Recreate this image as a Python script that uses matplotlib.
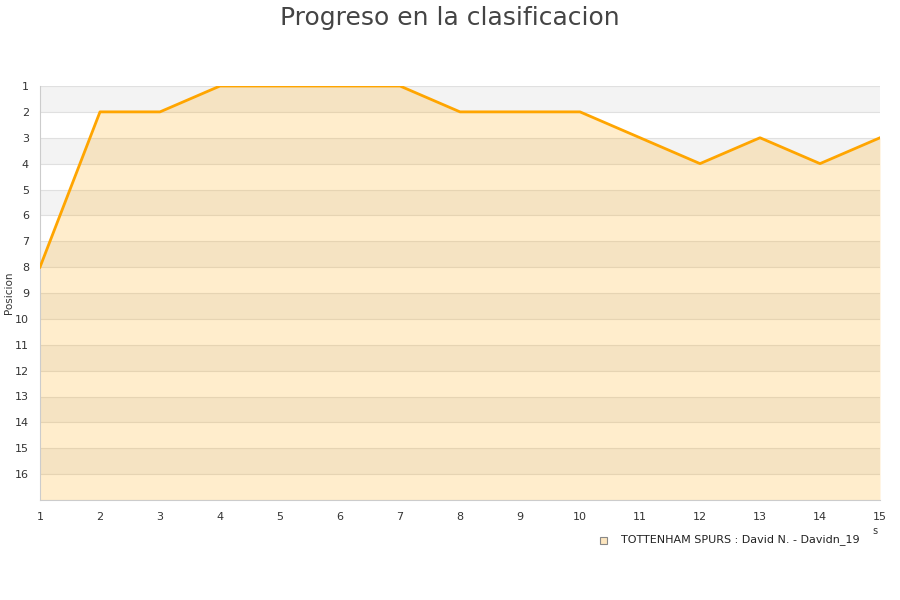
import matplotlib
matplotlib.use("Agg")
import matplotlib.pyplot as plt
from matplotlib.patches import Rectangle

# Datos: jornadas y posiciones
jornadas = list(range(1, 16))
posiciones = [8, 2, 2, 1, 1, 1, 1, 2, 2, 2, 3, 4, 3, 4, 3]
etiquetas_pos = list(range(1, 17))
equipo = "TOTTENHAM SPURS : David N. - Davidn_19"

fig = plt.figure(figsize=(9, 6), dpi=100)
ax = fig.add_axes([40 / 900, 1 - 500 / 600, 840 / 900, 414 / 600])

# bandas alternas
for p in range(1, 17):
    if p % 2 == 1:
        ax.axhspan(p, p + 1, color="#f3f3f3", lw=0, zorder=0)
for p in range(1, 18):
    ax.axhline(p, color="#e0e0e0", lw=0.8, zorder=1)

ax.fill_between(jornadas, posiciones, 17, color="#ffa500", alpha=0.2, lw=0, zorder=2)
ax.plot(jornadas, posiciones, color="#ffa500", lw=2, zorder=3)

ax.set_xlim(1, 15)
ax.set_ylim(17, 1)
ax.set_xticks(jornadas)
ax.set_yticks(etiquetas_pos)
ax.tick_params(length=0, labelsize=8, colors="#333333", pad=8)
ax.tick_params(axis="x", pad=9)

for s in ["top", "right"]:
    ax.spines[s].set_visible(False)
ax.spines["left"].set_color("#cccccc")
ax.spines["bottom"].set_color("#cccccc")

ax.set_ylabel("Posicion", fontsize=7.5, color="#333333")
ax.yaxis.set_label_coords(-26 / 840, 0.5)
fig.suptitle("Progreso en la clasificacion", fontsize=18, color="#444444", y=0.99)

fig.text(875 / 900, 1 - 531 / 600, "s", fontsize=7, color="#333333", ha="center", va="center")

# leyenda
fig.patches.append(Rectangle((603 / 900 - 3.5 / 900, 1 - 540 / 600 - 3.5 / 600), 7 / 900, 7 / 600,
                             transform=fig.transFigure, facecolor="#fde6bf", edgecolor="#888888", lw=0.8))
fig.text(621 / 900, 1 - 540 / 600, equipo, fontsize=8, color="#222222", ha="left", va="center")

plt.savefig("out.png")
